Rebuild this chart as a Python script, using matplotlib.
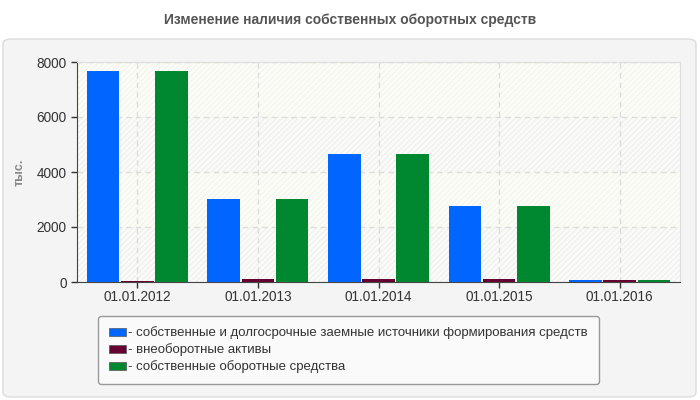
import numpy as np
import matplotlib.pyplot as plt
from matplotlib.patches import FancyBboxPatch, Patch

plt.rcParams['font.family'] = ['Liberation Sans', 'DejaVu Sans']

# data
dates = ["01.01.2012", "01.01.2013", "01.01.2014", "01.01.2015", "01.01.2016"]
sources = [7680, 3020, 4660, 2780, 85]
noncurrent = [50, 120, 120, 120, 85]
own_working = [7670, 3020, 4660, 2780, 85]

series_names = [
    "- собственные и долгосрочные заемные источники формирования средств",
    "- внеоборотные активы",
    "- собственные оборотные средства",
]
colors = ["#0066ff", "#660033", "#008830"]

fig = plt.figure(figsize=(7, 4), dpi=100)
fig.patch.set_facecolor("white")

# outer rounded panel
panel = FancyBboxPatch((3 / 700, 3 / 400), 693 / 700, 358 / 400,
                       boxstyle="round,pad=0,rounding_size=0.012",
                       transform=fig.transFigure, facecolor="#f4f4f4",
                       edgecolor="#dcdcdc", linewidth=1, zorder=-5)
fig.patches.append(panel)

fig.text(0.5, 1 - 20 / 400, "Изменение наличия собственных оборотных средств",
         ha="center", va="center", fontsize=10, fontweight="bold", color="#555555")

ax = fig.add_axes([77 / 700, 118 / 400, 603 / 700, 220 / 400])
ax.set_facecolor("#fdfdf8")

# faint striped background bands
for lo, hi in [(0, 2000), (4000, 6000)]:
    ax.axhspan(lo, hi, facecolor="#fbfbf9", edgecolor="#f0f0ec", hatch="//////",
               linewidth=0, zorder=0)
for lo, hi in [(2000, 4000), (6000, 8000)]:
    ax.axhspan(lo, hi, facecolor="#fdfdf7", edgecolor="#f5f5ef", hatch="//////",
               linewidth=0, zorder=0)

x = np.arange(len(dates))
w = 0.27
step = 0.283
for i, (vals, col) in enumerate(zip([sources, noncurrent, own_working], colors)):
    ax.bar(x + (i - 1) * step, vals, width=w, color=col, zorder=3)

ax.set_xlim(-0.5, len(dates) - 0.5)
ax.set_ylim(0, 8000)
ax.set_yticks([0, 2000, 4000, 6000, 8000])
ax.set_xticks(x)
ax.set_xticklabels(dates)
ax.tick_params(axis="both", labelsize=9.8, colors="#333333", length=4, width=1)
ax.tick_params(axis="x", pad=2)
ax.grid(True, color="#dddddd", linestyle=(0, (4, 3)), linewidth=1, zorder=1)

for side in ["top", "right"]:
    ax.spines[side].set_color("#dddddd")
for side in ["left", "bottom"]:
    ax.spines[side].set_color("#444444")

ax.set_ylabel("тыс.", fontsize=9, fontweight="bold", color="#888888")
ax.yaxis.set_label_coords(-0.085, 0.5)

handles = [Patch(facecolor=c, edgecolor="#555555", linewidth=0.5) for c in colors]
leg = fig.legend(handles, series_names, loc="upper left",
                 bbox_to_anchor=(98 / 700, 1 - 316 / 400), borderaxespad=0,
                 fontsize=9.5, frameon=True, fancybox=True, handlelength=1.3,
                 handleheight=0.55, handletextpad=0.2, labelspacing=0.3,
                 borderpad=0.8, labelcolor="#333333")
leg.get_frame().set_facecolor("#fafafa")
leg.get_frame().set_edgecolor("#999999")
leg.get_frame().set_alpha(1)

fig.savefig("out.png", dpi=100, facecolor=fig.get_facecolor())
